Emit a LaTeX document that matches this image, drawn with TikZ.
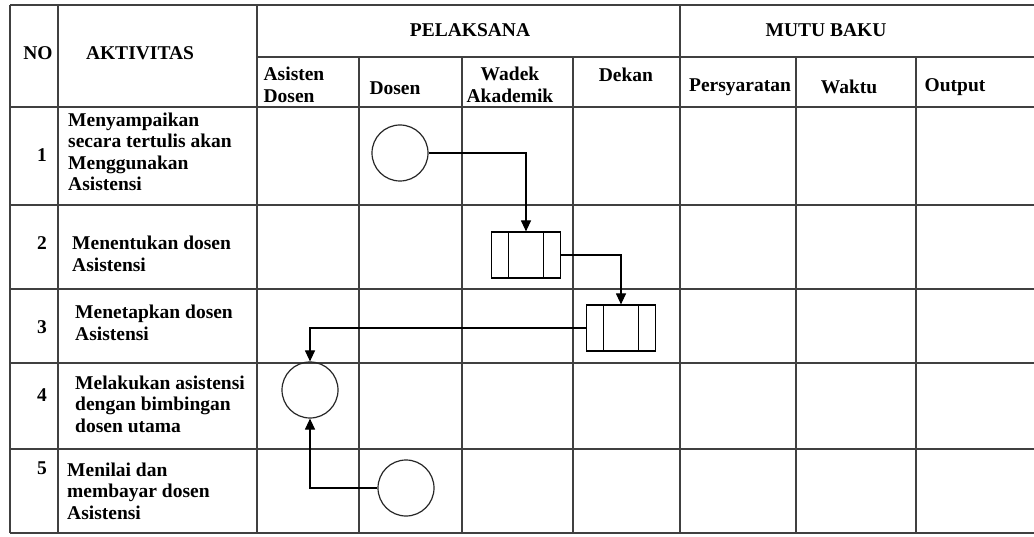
\documentclass[tikz,border=0pt]{standalone}
\usepackage{fontspec}
\setmainfont{Liberation Serif}
\usepackage{tikz}
\usetikzlibrary{arrows.meta}
\tikzstyle{teks} = [font=\fontsize{19.5}{21.5}\selectfont\bfseries, inner sep=0pt]
\tikzstyle{rowtext} = [teks, anchor=west, align=left]
\tikzstyle{garis} = [line width=1.6pt, draw=black!75]
\tikzstyle{start} = [circle, draw=black!85, line width=1.2pt, minimum size=56pt, inner sep=0pt]
\tikzstyle{predef} = [rectangle, draw=black, line width=1.2pt, minimum width=69pt, minimum height=46pt, inner sep=0pt,
  path picture={\draw[line width=1.2pt] ([xshift=17pt]path picture bounding box.north west) -- ([xshift=17pt]path picture bounding box.south west);
                \draw[line width=1.2pt] ([xshift=-17pt]path picture bounding box.north east) -- ([xshift=-17pt]path picture bounding box.south east);}]
\tikzstyle{arrow} = [line width=1.2pt, -{Triangle[length=11pt,width=10pt]}]

\begin{document}
\begin{tikzpicture}[x=1pt,y=-1pt]
\useasboundingbox (0,0) rectangle (1034,537);

% Table - lines
\foreach \y in {5,107,205,289,363,449,533} \draw [garis] (10,\y) -- (1034,\y);
\draw [garis] (257,57) -- (1034,57);
\foreach \x in {10,58,257,680} \draw [garis] (\x,5) -- (\x,533);
\foreach \x in {359,462,573,796,916} \draw [garis] (\x,57) -- (\x,533);

% Table - header
\node[teks] (hNo) at (38,53) {NO};
\node[teks] (hAktivitas) at (140,53) {AKTIVITAS};
\node[teks] (hPelaksana) at (470,30) {PELAKSANA};
\node[teks] (hMutu) at (826,30) {MUTU BAKU};
\node[teks, align=left] (hAsdos) at (294,85) {Asisten\\Dosen};
\node[teks] (hDosen) at (395,88) {Dosen};
\node[teks, align=center] (hWadek) at (510,85) {Wadek\\Akademik};
\node[teks] (hDekan) at (626,75) {Dekan};
\node[teks] (hSyarat) at (740,87) {Persyaratan};
\node[teks] (hWaktu) at (849,87) {Waktu};
\node[teks] (hOutput) at (955,87) {Output};

% Rows - number and activity
\node[teks] (no1) at (42,155) {1};
\node[rowtext] (akt1) at (68,152) {Menyampaikan\\secara tertulis akan\\Menggunakan\\Asistensi};
\node[teks] (no2) at (42,243) {2};
\node[rowtext] (akt2) at (72,254) {Menentukan dosen\\Asistensi};
\node[teks] (no3) at (42,327) {3};
\node[rowtext] (akt3) at (75,323) {Menetapkan dosen\\Asistensi};
\node[teks] (no4) at (42,395) {4};
\node[rowtext] (akt4) at (75,404) {Melakukan asistensi\\dengan bimbingan\\dosen utama};
\node[teks] (no5) at (42,468) {5};
\node[rowtext] (akt5) at (67,491) {Menilai dan\\membayar dosen\\Asistensi};

% Flow - symbols
\node (mulai) [start] at (400,153) {};
\node (tentukan) [predef] at (526,255) {};
\node (tetapkan) [predef] at (621,328) {};
\node (asistensi) [start] at (310,390) {};
\node (nilai) [start] at (406,488) {};

% Flow - arrows
\draw [arrow] (mulai) -| (tentukan);
\draw [arrow] (tentukan) -| (tetapkan);
\draw [arrow] (tetapkan) -| (asistensi);
\draw [arrow] (nilai) -| (asistensi);

\end{tikzpicture}
\end{document}
